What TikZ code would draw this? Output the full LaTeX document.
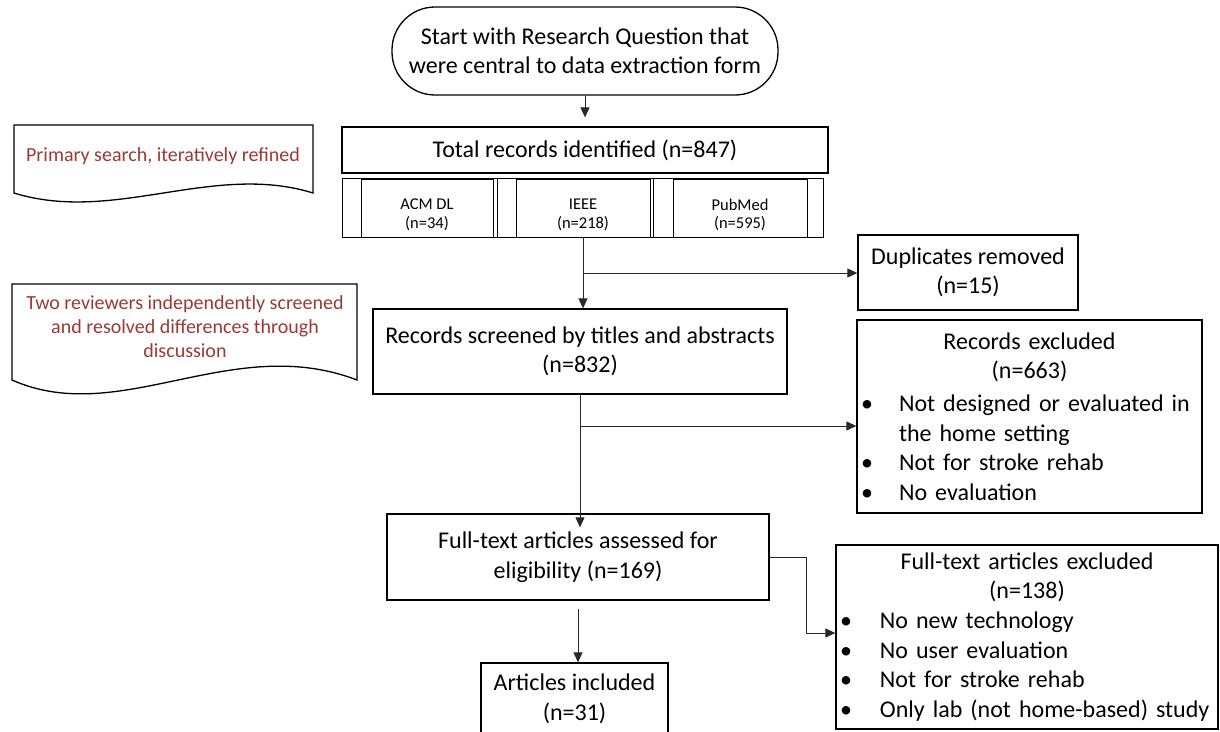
\documentclass[tikz,border=0pt]{standalone}
\usepackage{fontspec}
\setmainfont{Carlito}
\usetikzlibrary{arrows.meta}
\definecolor{redtxt}{RGB}{155,58,52}
\definecolor{connc}{RGB}{40,40,40}
\begin{document}
\begin{tikzpicture}[x=1pt,y=-1pt,
  box/.style={draw, line width=1.3pt, rectangle, inner sep=0pt, align=center,
              font=\fontsize{24}{29.5}\selectfont},
  listbox/.style={draw, line width=1.3pt, rectangle, inner sep=0pt,
              font=\fontsize{24}{29.7}\selectfont},
  dbbox/.style={draw, line width=1pt, rectangle, inner sep=0pt, minimum height=58pt},
  dbtext/.style={align=center, inner sep=0pt, yshift=-7pt,
              font=\fontsize{16.5}{18.5}\selectfont},
  dbline/.style={draw, line width=1pt},
  docshape/.style={draw, line width=1.3pt},
  redtext/.style={text=redtxt, align=center, inner sep=0pt,
              font=\fontsize{20}{24}\selectfont},
  conn/.style={draw=connc, line width=1pt, -{Triangle[length=10pt,width=9pt]}}]
\clip (0,0) rectangle (1220,731);
\fill[white] (0,0) rectangle (1220,731);

% start terminator
\node[box, rounded corners=43pt, minimum width=386pt, minimum height=88pt] (start) at (585,51)
  {Start with Research Question that\\were central to data extraction form};

% total records
\node[box, minimum width=486pt, minimum height=46pt] (total) at (585,150)
  {Total records identified (n=847)};

% databases (predefined process)
\node[dbbox, minimum width=132pt, label={[dbtext]center:{ACM DL\\(n=34)}}] (acm) at (427,208) {};
\node[dbbox, minimum width=134pt, label={[dbtext]center:{IEEE\\(n=218)}}] (ieee) at (583,208) {};
\node[dbbox, minimum width=134pt, label={[dbtext]center:{PubMed\\(n=595)}}] (pubmed) at (740,208) {};
\draw[dbline] ([xshift=-18pt]acm.north west) rectangle ([xshift=4pt]acm.south east);
\draw[dbline] ([xshift=-18pt]ieee.north west) rectangle ([xshift=3pt]ieee.south east);
\draw[dbline] ([xshift=-19pt]pubmed.north west) rectangle ([xshift=16pt]pubmed.south east);

% duplicates
\node[box, minimum width=220pt, minimum height=75pt] (dup) at (968,272.5)
  {Duplicates removed\\(n=15)};

% screened
\node[box, minimum width=414pt, minimum height=85pt] (screened) at (580,351.5)
  {Records screened by titles and abstracts\\(n=832)};

% records excluded
\node[listbox, minimum width=345pt, minimum height=193pt, text width=345pt] (excl) at (1029.5,416.5)
  {{\centering Records excluded\\(n=663)\par}\vspace{3pt}%
   \raggedright
   \hspace*{4pt}\makebox[38pt][l]{•}Not designed or evaluated in\\
   \hspace*{42pt}the home setting\\
   \hspace*{4pt}\makebox[38pt][l]{•}Not for stroke rehab\\
   \hspace*{4pt}\makebox[38pt][l]{•}No evaluation\par};

% full text assessed
\node[box, minimum width=382pt, minimum height=86pt] (full) at (578,557)
  {Full-text articles assessed for\\eligibility (n=169)};

% full text excluded
\node[listbox, minimum width=382pt, minimum height=184pt, text width=382pt] (ftex) at (1027,637)
  {{\centering Full-text articles excluded\\(n=138)\par}%
   \raggedright
   \hspace*{4pt}\makebox[40pt][l]{•}No new technology\\
   \hspace*{4pt}\makebox[40pt][l]{•}No user evaluation\\
   \hspace*{4pt}\makebox[40pt][l]{•}Not for stroke rehab\\
   \hspace*{4pt}\makebox[40pt][l]{•}Only lab (not home-based) study\par};

% articles included
\node[box, minimum width=187pt, minimum height=72pt] (art) at (574.5,699)
  {Articles included\\(n=31)};

% documents (notes)
\draw[docshape] (14,125) -- (313,125) -- (313,193)
  .. controls (213,162) and (114,224) .. (14,193) -- cycle;
\node[redtext] (doc1) at (163,156) {Primary search, iteratively refined};
\draw[docshape] (12,284) -- (357,284) -- (357,380)
  .. controls (232,332) and (120,428) .. (12,380) -- cycle;
\node[redtext] (doc2) at (185,327)
  {Two reviewers independently screened\\and resolved differences through\\discussion};

% connectors
\draw[conn, shorten >=9pt] (start.south) -- (total.north);
\draw[conn] (ieee.south) -- (ieee.south |- screened.north);
\coordinate (b1) at (583,273);
\draw[conn] (b1) -- (b1 -| dup.west);
\draw[conn, shorten >=-14pt] (screened.south) -- (screened.south |- full.north);
\coordinate (b2) at (580,426);
\draw[conn] (b2) -- (b2 -| excl.west);
\draw[conn, shorten <=8pt] (full.south) -- (full.south |- art.north);
\coordinate (j) at (806,633);
\draw[conn] (full.east) -| (j) -- (j -| ftex.west);
\end{tikzpicture}
\end{document}
